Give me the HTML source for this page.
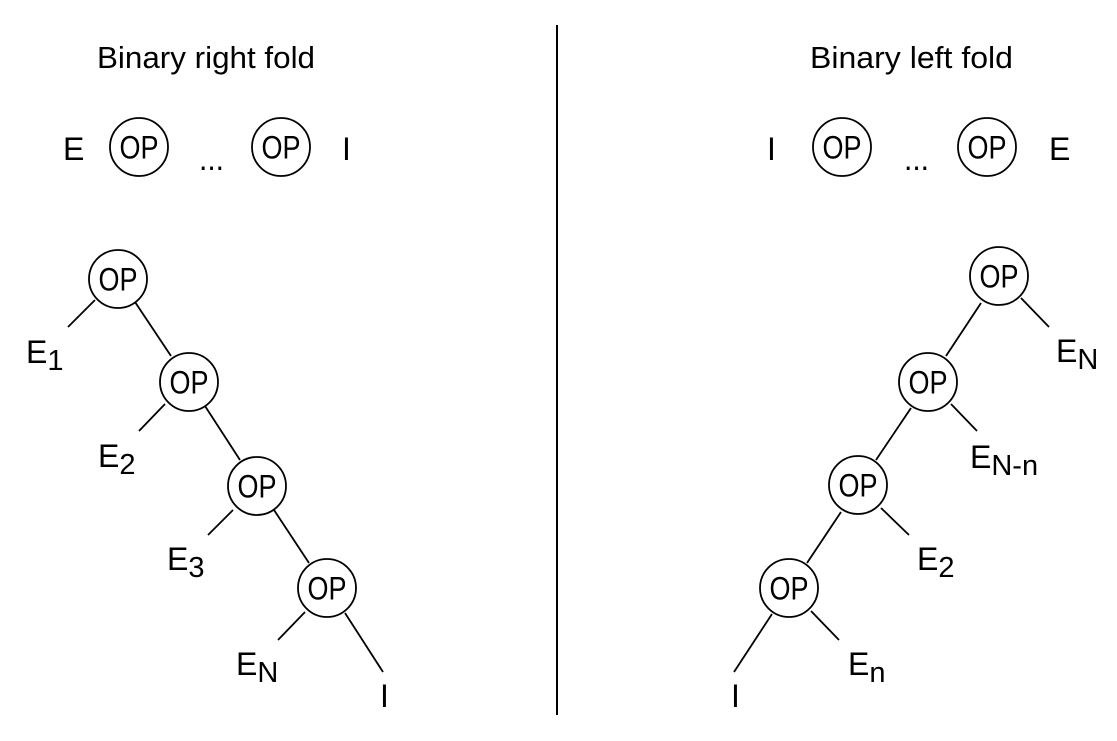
<!DOCTYPE html>
<html><head><style>body{margin:0;background:#fff}svg{display:block}text{font-family:"Liberation Sans",sans-serif;fill:#000}</style></head>
<body>
<svg width="1117" height="741" viewBox="0 0 1117 741" xmlns="http://www.w3.org/2000/svg">
<g font-size="31">
<text x="97" y="68" textLength="218" lengthAdjust="spacingAndGlyphs">Binary right fold</text>
<text x="810" y="68" textLength="203" lengthAdjust="spacingAndGlyphs">Binary left fold</text>
</g>
<line x1="557" y1="25" x2="557" y2="715" stroke="#000" stroke-width="2"/>
<g fill="none" stroke="#000" stroke-width="1.8">
<circle cx="139" cy="147" r="29"/><circle cx="281" cy="147" r="29"/>
<circle cx="842" cy="147" r="29"/><circle cx="987" cy="147" r="29"/>
<circle cx="118" cy="279" r="29"/><circle cx="189" cy="382" r="29"/><circle cx="257" cy="486" r="29"/><circle cx="327" cy="588" r="29"/>
<circle cx="999" cy="276" r="29"/><circle cx="928" cy="382" r="29"/><circle cx="858" cy="485" r="29"/><circle cx="789" cy="588" r="29"/>
<line x1="95" y1="300" x2="68" y2="327"/><line x1="135" y1="302" x2="171" y2="356"/>
<line x1="165" y1="404" x2="139" y2="431"/><line x1="205" y1="406" x2="240" y2="460"/>
<line x1="233" y1="510" x2="208" y2="535"/><line x1="274" y1="510" x2="309" y2="563"/>
<line x1="305" y1="612" x2="278" y2="640"/><line x1="345" y1="613" x2="383" y2="672"/>
<line x1="1021" y1="298" x2="1049" y2="327"/><line x1="981" y1="303" x2="946" y2="356"/>
<line x1="951" y1="404" x2="977" y2="431"/><line x1="911" y1="408" x2="876" y2="460"/>
<line x1="881" y1="508" x2="909" y2="535"/><line x1="841" y1="512" x2="807" y2="563"/>
<line x1="811" y1="611" x2="839" y2="640"/><line x1="772" y1="614" x2="734" y2="672"/>
</g>
<g font-size="32">
<text x="119.5" y="158.5" textLength="39" lengthAdjust="spacingAndGlyphs">OP</text>
<text x="261.5" y="158.5" textLength="39" lengthAdjust="spacingAndGlyphs">OP</text>
<text x="822.5" y="158.5" textLength="39" lengthAdjust="spacingAndGlyphs">OP</text>
<text x="967.5" y="158.5" textLength="39" lengthAdjust="spacingAndGlyphs">OP</text>
<text x="98.5" y="290.5" textLength="39" lengthAdjust="spacingAndGlyphs">OP</text>
<text x="169.5" y="393.5" textLength="39" lengthAdjust="spacingAndGlyphs">OP</text>
<text x="237.5" y="497.5" textLength="39" lengthAdjust="spacingAndGlyphs">OP</text>
<text x="307.5" y="599.5" textLength="39" lengthAdjust="spacingAndGlyphs">OP</text>
<text x="979.5" y="287.5" textLength="39" lengthAdjust="spacingAndGlyphs">OP</text>
<text x="908.5" y="393.5" textLength="39" lengthAdjust="spacingAndGlyphs">OP</text>
<text x="838.5" y="496.5" textLength="39" lengthAdjust="spacingAndGlyphs">OP</text>
<text x="769.5" y="599.5" textLength="39" lengthAdjust="spacingAndGlyphs">OP</text>
</g>
<g font-size="32">
<text x="63" y="160">E</text><text x="199" y="170" textLength="25" lengthAdjust="spacingAndGlyphs">...</text><text x="342" y="160">I</text>
<text x="767" y="160">I</text><text x="904" y="170" textLength="25" lengthAdjust="spacingAndGlyphs">...</text><text x="1049" y="160">E</text>
<text x="26" y="363">E<tspan font-size="29" dy="7">1</tspan></text>
<text x="98" y="467">E<tspan font-size="29" dy="7">2</tspan></text>
<text x="167" y="570">E<tspan font-size="29" dy="7">3</tspan></text>
<text x="236" y="675">E<tspan font-size="29" dy="7">N</tspan></text>
<text x="380" y="707">I</text>
<text x="1056" y="362">E<tspan font-size="29" dy="7">N</tspan></text>
<text x="970" y="468">E<tspan font-size="29" dy="7">N-n</tspan></text>
<text x="917" y="570">E<tspan font-size="29" dy="7">2</tspan></text>
<text x="848" y="675">E<tspan font-size="29" dy="7">n</tspan></text>
<text x="731" y="707">I</text>
</g>
</svg>
</body></html>
